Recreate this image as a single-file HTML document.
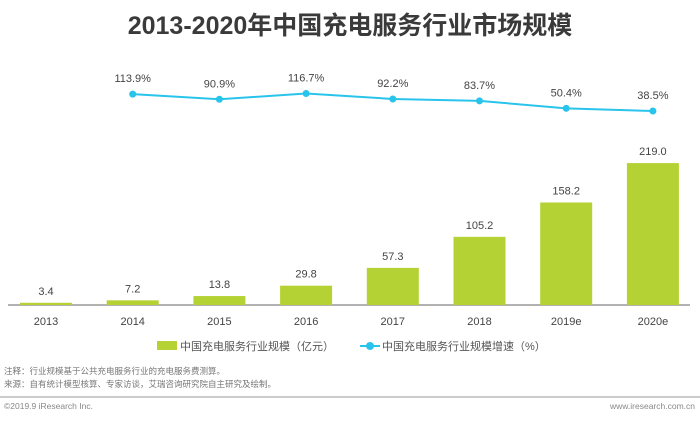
<!DOCTYPE html>
<html><head><meta charset="utf-8"><style>
body{margin:0;background:#fff;}
svg text{font-family:"Liberation Sans","Noto Sans CJK SC",sans-serif;}
</style></head><body>
<svg width="700" height="420" viewBox="0 0 700 420" xmlns="http://www.w3.org/2000/svg">
<text x="350" y="34" text-anchor="middle" font-size="25" font-weight="bold" fill="#3a3a3a">2013-2020年中国充电服务行业市场规模</text>
<line x1="8" y1="305" x2="690" y2="305" stroke="#999" stroke-width="1.5"/>
<g id="bars"></g><g id="line"></g><g id="labels"></g>
<g>
<rect x="157" y="341" width="20" height="9" fill="#b4d233"/>
<text x="180" y="350" font-size="11" fill="#555">中国充电服务行业规模（亿元）</text>
<line x1="360" y1="346" x2="380" y2="346" stroke="#29c4ec" stroke-width="2"/>
<circle cx="370" cy="346" r="4" fill="#29c4ec"/>
<text x="382" y="350" font-size="11" fill="#555">中国充电服务行业规模增速（%）</text>
</g>
<text x="4" y="374" font-size="8.5" fill="#777">注释：行业规模基于公共充电服务行业的充电服务费测算。</text>
<text x="4" y="387" font-size="8.5" fill="#777">来源：自有统计模型核算、专家访谈，艾瑞咨询研究院自主研究及绘制。</text>
<line x1="0" y1="397" x2="700" y2="397" stroke="#999" stroke-width="1"/>
<text x="4" y="409" font-size="8.5" fill="#888">©2019.9  iResearch Inc.</text>
<text x="695" y="409" font-size="8.5" fill="#888" text-anchor="end">www.iresearch.com.cn</text>
</svg>
<script>
const categories=["2013","2014","2015","2016","2017","2018","2019e","2020e"];
const marketSize=[3.4,7.2,13.8,29.8,57.3,105.2,158.2,219.0];
const growthRate=[null,113.9,90.9,116.7,92.2,83.7,50.4,38.5];
const NS="http://www.w3.org/2000/svg";
function xPos(i){return 46+i*86.7;}
function yBar(v){return 305-v*0.648;}
function yLine(v){return 111-(v-38.5)*0.224;}
function mk(tag,attrs,parent){const e=document.createElementNS(NS,tag);for(const k in attrs)e.setAttribute(k,attrs[k]);document.getElementById(parent).appendChild(e);return e;}
const bw=52;
let pts=[];
categories.forEach((c,i)=>{
  const x=xPos(i),v=marketSize[i],y=yBar(v);
  const r=mk('rect',{x:x-bw/2,y:y,width:bw,height:305-y,fill:'#b4d233'},'bars');
  
  
  const t=mk('text',{x:x,y:y-8,'text-anchor':'middle','font-size':'11',fill:'#444'},'labels');t.textContent=v.toFixed(1);
  
  
  const cl=mk('text',{x:x,y:325,'text-anchor':'middle','font-size':'11',fill:'#444'},'labels');cl.textContent=c;
  
  
  const g=growthRate[i];
  if(g!==null){
    const yy=yLine(g);pts.push(x+','+yy);
    const p=mk('circle',{cx:x,cy:yy,r:3.5,fill:'#29c4ec'},'line');
    
    
    const gt=mk('text',{x:x,y:yy-12,'text-anchor':'middle','font-size':'11',fill:'#444'},'labels');gt.textContent=g.toFixed(1)+'%';
    
    
  }
});
const pl=mk('polyline',{points:pts.join(' '),fill:'none',stroke:'#29c4ec','stroke-width':2},'line');


document.getElementById('line').insertBefore(pl,document.getElementById('line').firstChild);
</script>
</body></html>
